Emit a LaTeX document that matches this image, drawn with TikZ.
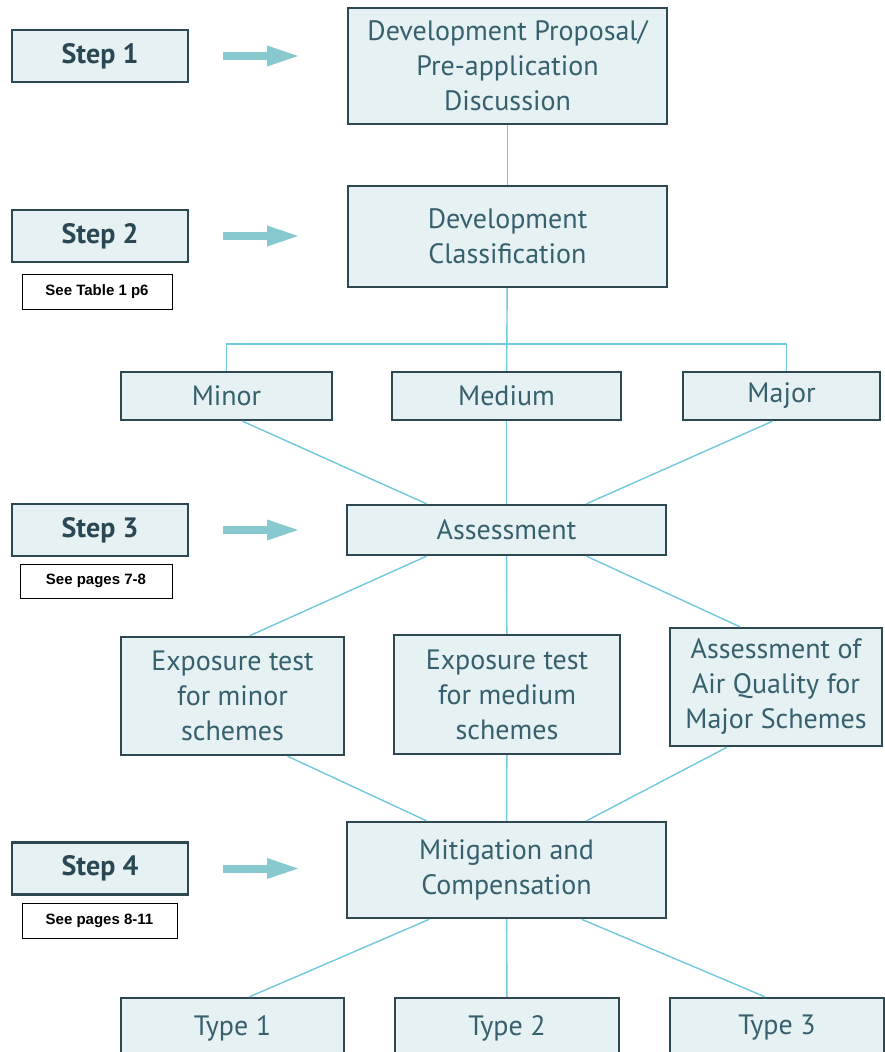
\documentclass[tikz,border=0pt]{standalone}
\usepackage{fontspec}
\setmainfont{PT Sans}
\newfontfamily\reffont{Liberation Sans}
\usetikzlibrary{arrows.meta}

\definecolor{boxfill}{HTML}{E5F1F2}
\definecolor{boxline}{HTML}{2E4852}
\definecolor{boxtext}{HTML}{36606E}
\definecolor{steptext}{HTML}{2A4853}
\definecolor{linkblue}{HTML}{72C9DD}
\definecolor{arrowteal}{HTML}{88C9D0}

\begin{document}
\begin{tikzpicture}[x=1pt,y=-1pt,
    flowbox/.style={draw=boxline,line width=2.4pt,fill=boxfill,text=boxtext,align=center,inner sep=0pt,font=\fontsize{28}{35}\selectfont},
    stepbox/.style={flowbox,text=steptext,minimum width=176pt,minimum height=52pt,font=\fontsize{28}{32}\selectfont\bfseries},
    refbox/.style={draw=black,line width=1pt,fill=white,inner sep=0pt,minimum height=35pt,font=\reffont\fontsize{15}{17}\selectfont\bfseries},
    joinline/.style={draw=linkblue,line width=1.4pt},
    stepgo/.style={draw=arrowteal,line width=8pt,-{Triangle[length=34pt,width=18pt]}}]
    \useasboundingbox[fill=white] (0,0) rectangle (885,1052);

    \node[stepbox] (stepone) at (100,56) {Step 1};
    \node[stepbox] (steptwo) at (100,236) {Step 2};
    \node[stepbox] (stepthree) at (100,530) {Step 3};
    \node[stepbox] (stepfour) at (100,868.5) {Step 4};
    \node[refbox,minimum width=150pt] (reftwo) at (97,291.5) {See Table 1 p6};
    \node[refbox,minimum width=152pt,minimum height=34pt] (refthree) at (96,581) {See pages 7-8};
    \node[refbox,minimum width=155pt] (reffour) at (99.5,920.5) {See pages 8-11};

    \node[flowbox,minimum width=319pt,minimum height=116pt] (proposal) at (507.5,66) {Development Proposal/\\Pre-application\\Discussion};
    \node[flowbox,minimum width=319pt,minimum height=101pt] (classify) at (507.5,236.5) {Development\\Classification};
    \node[flowbox,minimum width=211pt,minimum height=48pt] (minor) at (226.5,396) {Minor};
    \node[flowbox,minimum width=229pt,minimum height=48pt] (medium) at (506.5,396) {Medium};
    \node[flowbox,minimum width=197pt,minimum height=48pt] (major) at (781.5,396) {Major};
    \node[flowbox,minimum width=319pt,minimum height=50pt] (assess) at (506.5,530) {Assessment};
    \node[flowbox,minimum width=223pt,minimum height=118pt] (expminor) at (232.5,696) {Exposure test\\for minor\\schemes};
    \node[flowbox,minimum width=226pt,minimum height=119pt] (expmedium) at (507,694.5) {Exposure test\\for medium\\schemes};
    \node[flowbox,minimum width=212pt,minimum height=118pt] (airquality) at (776,687) {Assessment of\\Air Quality for\\Major Schemes};
    \node[flowbox,minimum width=319pt,minimum height=96pt] (mitigate) at (506.5,870) {Mitigation and\\Compensation};
    \node[flowbox,minimum width=223pt,minimum height=60pt] (typeone) at (232.5,1028) {Type 1};
    \node[flowbox,minimum width=224pt,minimum height=60pt] (typetwo) at (507,1028) {Type 2};
    \node[flowbox,minimum width=214pt,minimum height=60pt] (typethree) at (777,1028) {Type 3};

    \draw[stepgo] ([xshift=34]stepone.east) -- ++(78,0);
    \draw[stepgo] ([xshift=34]steptwo.east) -- ++(78,0);
    \draw[stepgo] ([xshift=34]stepthree.east) -- ++(78,0);
    \draw[stepgo] ([xshift=34]stepfour.east) -- ++(78,0);

    \draw[joinline] (proposal) -- (classify);
    \draw[joinline] (classify) -- (medium);
    \draw[joinline] (minor.north) -- ++(0,-27) -| ([xshift=5]major.north);
    \draw[joinline] ([xshift=16]minor.south) -- ([xshift=-80]assess.north);
    \draw[joinline] (medium) -- (assess);
    \draw[joinline] ([xshift=-9]major.south) -- ([xshift=80]assess.north);
    \draw[joinline] ([xshift=-80]assess.south) -- ([xshift=17]expminor.north);
    \draw[joinline] (assess) -- (expmedium);
    \draw[joinline] ([xshift=80]assess.south) -- ([xshift=-36]airquality.north);
    \draw[joinline] ([xshift=55]expminor.south) -- ([xshift=-80]mitigate.north);
    \draw[joinline] (expmedium) -- (mitigate);
    \draw[joinline] ([xshift=-49]airquality.south) -- ([xshift=80]mitigate.north);
    \draw[joinline] ([xshift=-77]mitigate.south) -- ([xshift=17]typeone.north);
    \draw[joinline] (mitigate) -- (typetwo);
    \draw[joinline] ([xshift=75]mitigate.south) -- ([xshift=-12]typethree.north);
\end{tikzpicture}
\end{document}
